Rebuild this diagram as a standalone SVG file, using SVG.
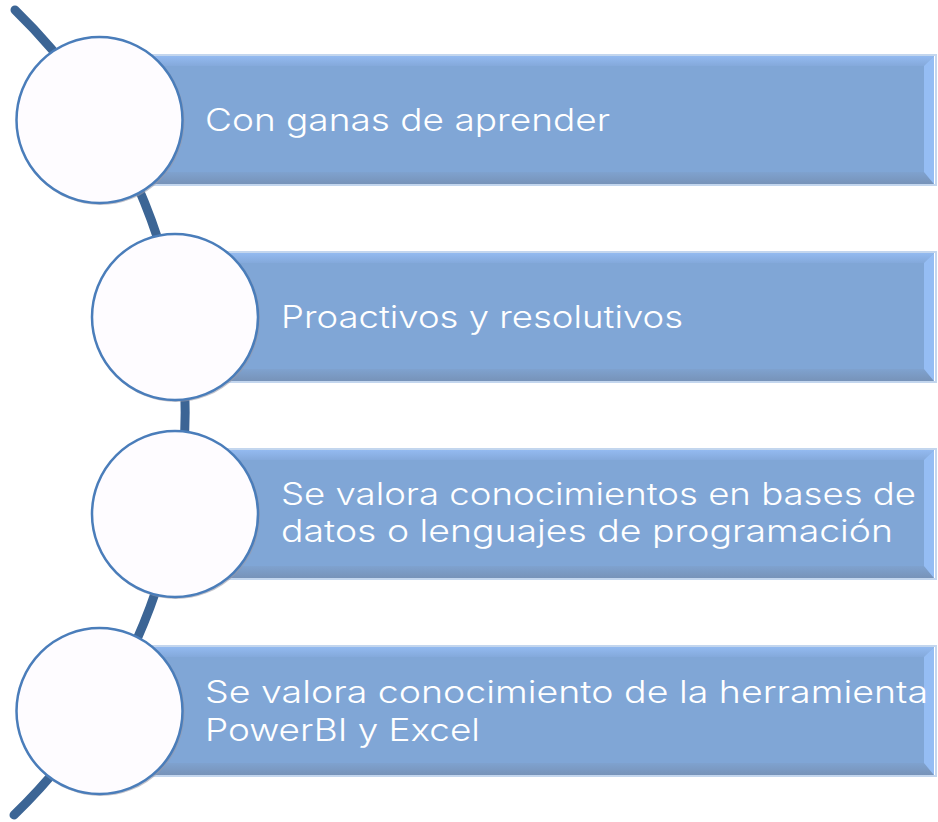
<svg xmlns="http://www.w3.org/2000/svg" width="938" height="822" viewBox="0 0 938 822">
<style>
.bar{fill:#80a6d6}
.br{fill:#95bdf4}
.bo{fill:none;stroke:#c3d6ee;stroke-width:2}
.circ{fill:#fefcff;stroke:#4a7dba;stroke-width:2.5}
.cs{fill:none;stroke:#9a9aa6;stroke-width:2;opacity:0.6}
.t{font-family:Inter,"Open Sans","DejaVu Sans",sans-serif;font-size:31px;font-weight:300;fill:#ffffff}
</style>
<defs>
<linearGradient id="tg" x1="0" y1="0" x2="0" y2="1">
<stop offset="0" stop-color="#93baf0"/>
<stop offset="1" stop-color="#84a9db"/>
</linearGradient>
<linearGradient id="bg" x1="0" y1="0" x2="0" y2="1">
<stop offset="0" stop-color="#7fa2cf"/>
<stop offset="1" stop-color="#7793b9"/>
</linearGradient>
</defs>
<g id="connectors">
<path d="M 15 10 A 560 560 0 0 1 14 815" fill="none" stroke="#3c6595" stroke-width="9" stroke-linecap="round"/>
</g>
<g id="bar1">
<rect x="150" y="55" width="786" height="130" class="bo"/>
<rect x="150" y="56" width="784" height="128" class="bar"/>
<polygon points="150,56 934,56 924,66 150,66" fill="url(#tg)"/>
<polygon points="150,184 934,184 924,172 150,172" fill="url(#bg)"/>
<polygon points="934,56 934,184 924,172 924,66" class="br"/>
<text class="t" x="205" y="131" textLength="405" lengthAdjust="spacingAndGlyphs">Con ganas de aprender</text>
</g>
<g id="bar2">
<rect x="226" y="252" width="710" height="130" class="bo"/>
<rect x="226" y="253" width="708" height="128" class="bar"/>
<polygon points="226,253 934,253 924,263 226,263" fill="url(#tg)"/>
<polygon points="226,381 934,381 924,369 226,369" fill="url(#bg)"/>
<polygon points="934,253 934,381 924,369 924,263" class="br"/>
<text class="t" x="281" y="328" textLength="402" lengthAdjust="spacingAndGlyphs">Proactivos y resolutivos</text>
</g>
<g id="bar3">
<rect x="226" y="449" width="710" height="130" class="bo"/>
<rect x="226" y="450" width="708" height="128" class="bar"/>
<polygon points="226,450 934,450 924,460 226,460" fill="url(#tg)"/>
<polygon points="226,578 934,578 924,566 226,566" fill="url(#bg)"/>
<polygon points="934,450 934,578 924,566 924,460" class="br"/>
<text class="t" x="281" y="505" textLength="635" lengthAdjust="spacingAndGlyphs">Se valora conocimientos en bases de</text>
<text class="t" x="281" y="542" textLength="612" lengthAdjust="spacingAndGlyphs">datos o lenguajes de programación</text>
</g>
<g id="bar4">
<rect x="150" y="646" width="786" height="130" class="bo"/>
<rect x="150" y="647" width="784" height="128" class="bar"/>
<polygon points="150,647 934,647 924,657 150,657" fill="url(#tg)"/>
<polygon points="150,775 934,775 924,763 150,763" fill="url(#bg)"/>
<polygon points="934,647 934,775 924,763 924,657" class="br"/>
<text class="t" x="205" y="703" textLength="723" lengthAdjust="spacingAndGlyphs">Se valora conocimiento de la herramienta</text>
<text class="t" x="205" y="741" textLength="275" lengthAdjust="spacingAndGlyphs">PowerBI y Excel</text>
</g>
<g id="circle1">
<circle cx="100.5" cy="121" r="83" class="cs"/>
<circle cx="99.5" cy="120" r="83" class="circ"/>
</g>
<g id="circle2">
<circle cx="176" cy="318" r="83" class="cs"/>
<circle cx="175" cy="317" r="83" class="circ"/>
</g>
<g id="circle3">
<circle cx="176" cy="515" r="83" class="cs"/>
<circle cx="175" cy="514" r="83" class="circ"/>
</g>
<g id="circle4">
<circle cx="100.5" cy="712" r="83" class="cs"/>
<circle cx="99.5" cy="711" r="83" class="circ"/>
</g>
</svg>
